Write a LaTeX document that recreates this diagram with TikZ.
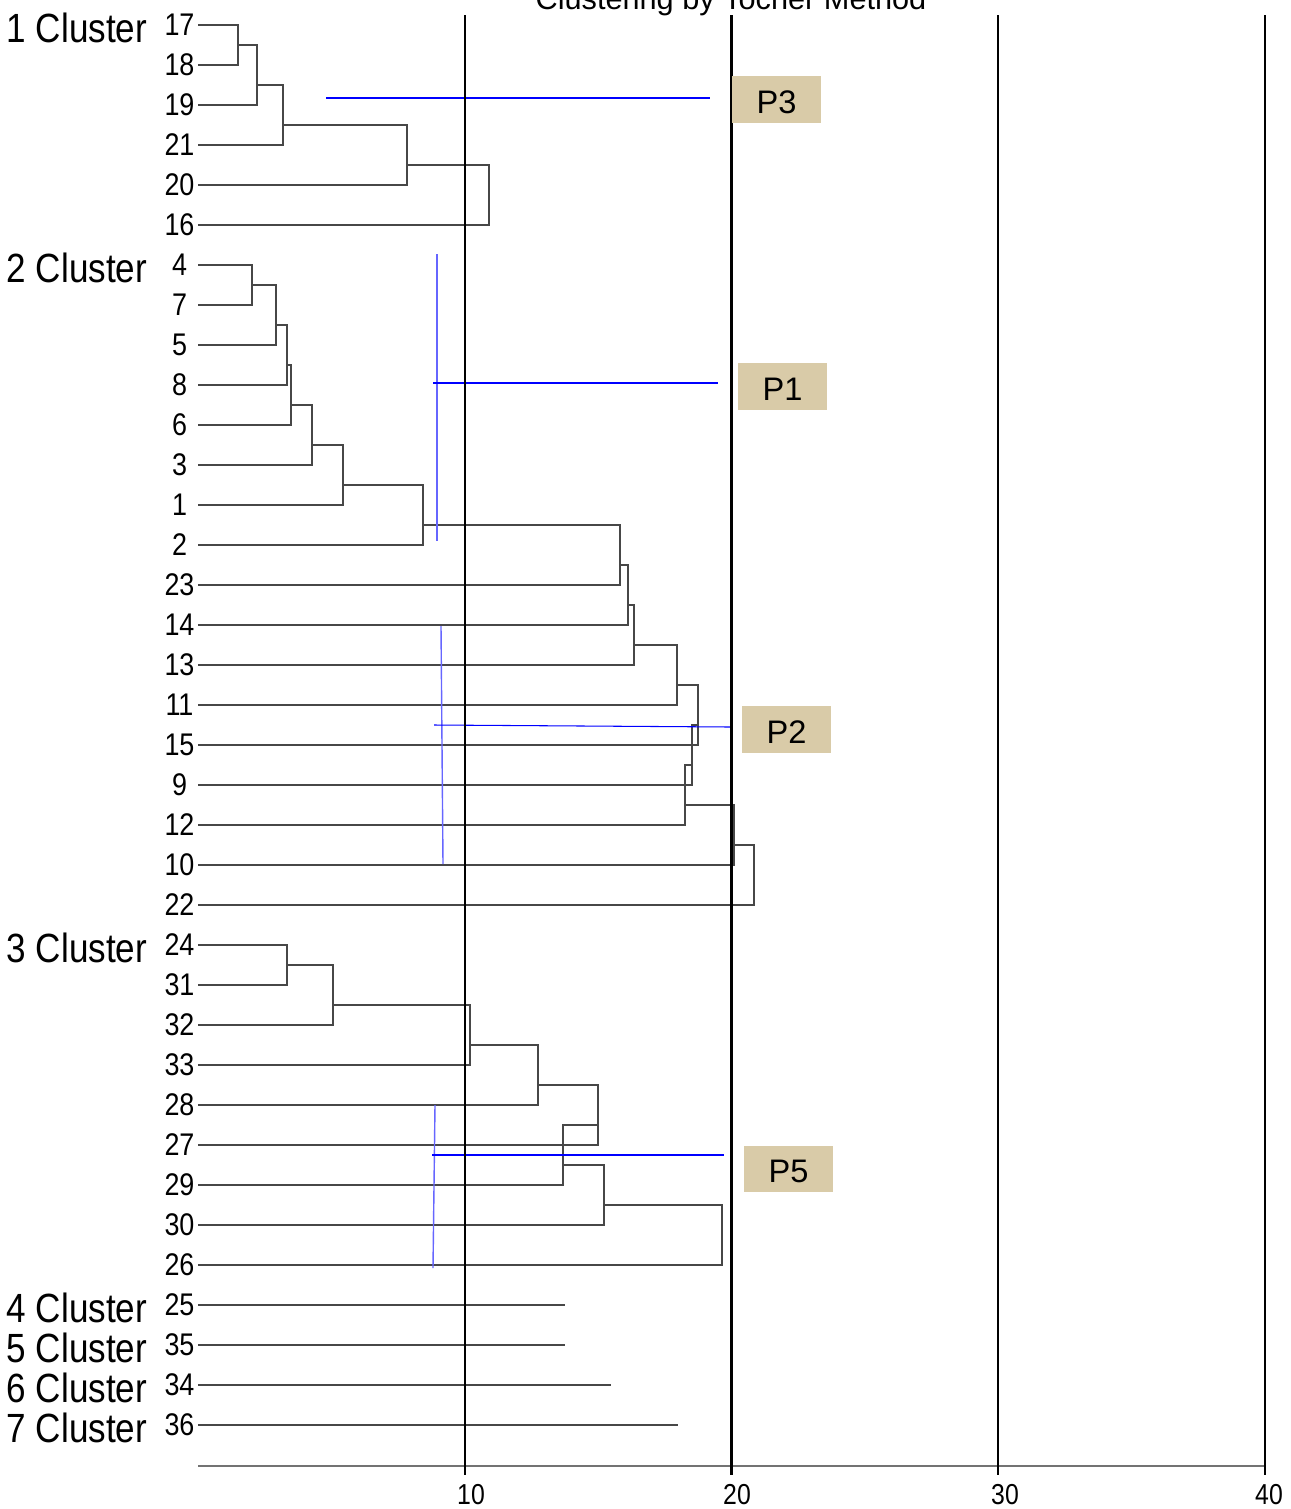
\documentclass[tikz,border=0pt]{standalone}
\usepackage{fontspec}
\setmainfont{Liberation Sans}
\newfontfamily\narrowfont[FakeStretch=0.86]{Liberation Sans}
\definecolor{ptan}{RGB}{217,203,168}
\tikzset{
  leaf/.style={anchor=east,inner sep=0pt,outer sep=0pt,minimum width=0.37cm,font=\narrowfont\fontsize{8.9}{10}\selectfont},
  clus/.style={anchor=base west,inner sep=0pt,font=\narrowfont\fontsize{11.6}{13}\selectfont},
  tickl/.style={inner sep=0pt,font=\narrowfont\fontsize{8.2}{10}\selectfont},
  headline/.style={anchor=base,inner sep=0pt,font=\fontsize{8.73}{10}\selectfont},
  link/.style={draw=black!72,line width=0.35pt},
  vline/.style={draw=black,line width=0.6pt},
  axisline/.style={draw=black!55,line width=0.35pt},
  cut/.style={draw=blue,line width=0.3pt},
  cutv/.style={draw=blue!60,line width=0.4pt},
  pbox/.style={fill=ptan,minimum width=0.88cm,minimum height=0.46cm,inner sep=0pt,text height=0.27cm,text depth=0pt,font=\fontsize{9.27}{11}\selectfont}
}
\begin{document}
\begin{tikzpicture}[x=0.01cm,y=-0.01cm]
\useasboundingbox (0,0) rectangle (1290,1509);
% title, cut at the top edge
\node[headline] (T) at (731,9.5) {Clustering by Tocher Method};
% cluster names
\node[clus] (C1) at (6,42) {1 Cluster};
\node[clus] (C2) at (6,282) {2 Cluster};
\node[clus] (C3) at (6,962) {3 Cluster};
\node[clus] (C4) at (6,1322) {4 Cluster};
\node[clus] (C5) at (6,1362) {5 Cluster};
\node[clus] (C6) at (6,1402) {6 Cluster};
\node[clus] (C7) at (6,1442) {7 Cluster};
% leaves
\node[leaf] (n17) at (198,25) {17};
\node[leaf] (n18) at (198,65) {18};
\node[leaf] (n19) at (198,105) {19};
\node[leaf] (n21) at (198,145) {21};
\node[leaf] (n20) at (198,185) {20};
\node[leaf] (n16) at (198,225) {16};
\node[leaf] (n4) at (198,265) {4};
\node[leaf] (n7) at (198,305) {7};
\node[leaf] (n5) at (198,345) {5};
\node[leaf] (n8) at (198,385) {8};
\node[leaf] (n6) at (198,425) {6};
\node[leaf] (n3) at (198,465) {3};
\node[leaf] (n1) at (198,505) {1};
\node[leaf] (n2) at (198,545) {2};
\node[leaf] (n23) at (198,585) {23};
\node[leaf] (n14) at (198,625) {14};
\node[leaf] (n13) at (198,665) {13};
\node[leaf] (n11) at (198,705) {11};
\node[leaf] (n15) at (198,745) {15};
\node[leaf] (n9) at (198,785) {9};
\node[leaf] (n12) at (198,825) {12};
\node[leaf] (n10) at (198,865) {10};
\node[leaf] (n22) at (198,905) {22};
\node[leaf] (n24) at (198,945) {24};
\node[leaf] (n31) at (198,985) {31};
\node[leaf] (n32) at (198,1025) {32};
\node[leaf] (n33) at (198,1065) {33};
\node[leaf] (n28) at (198,1105) {28};
\node[leaf] (n27) at (198,1145) {27};
\node[leaf] (n29) at (198,1185) {29};
\node[leaf] (n30) at (198,1225) {30};
\node[leaf] (n26) at (198,1265) {26};
\node[leaf] (n25) at (198,1305) {25};
\node[leaf] (n35) at (198,1345) {35};
\node[leaf] (n34) at (198,1385) {34};
\node[leaf] (n36) at (198,1425) {36};
% merge points
\coordinate (a1) at (238,45);
\coordinate (a2) at (257,85);
\coordinate (a3) at (283,125);
\coordinate (a4) at (407,165);
\coordinate (a5) at (489,205);
\coordinate (b1) at (252,285);
\coordinate (b2) at (276,325);
\coordinate (b3) at (287,365);
\coordinate (b4) at (291,405);
\coordinate (b5) at (312,445);
\coordinate (b6) at (343,485);
\coordinate (b7) at (423,525);
\coordinate (b8) at (620,565);
\coordinate (b9) at (628,605);
\coordinate (b10) at (634,645);
\coordinate (b11) at (677,685);
\coordinate (b12) at (698,725);
\coordinate (b13) at (692,765);
\coordinate (b14) at (685,805);
\coordinate (b15) at (734,845);
\coordinate (b16) at (754,885);
\coordinate (c1) at (287,965);
\coordinate (c2) at (333,1005);
\coordinate (c3) at (470,1045);
\coordinate (c4) at (538,1085);
\coordinate (c5) at (598,1125);
\coordinate (c6) at (563,1165);
\coordinate (c7) at (604,1205);
\coordinate (c8) at (722,1245);
\coordinate (e25) at (565,1305);
\coordinate (e35) at (565,1345);
\coordinate (e34) at (611,1385);
\coordinate (e36) at (678,1425);
% cluster 1
\draw[link] (n17.east) -| (a1) |- (n18.east);
\draw[link] (a1) -| (a2) |- (n19.east);
\draw[link] (a2) -| (a3) |- (n21.east);
\draw[link] (a3) -| (a4) |- (n20.east);
\draw[link] (a4) -| (a5) |- (n16.east);
% cluster 2
\draw[link] (n4.east) -| (b1) |- (n7.east);
\draw[link] (b1) -| (b2) |- (n5.east);
\draw[link] (b2) -| (b3) |- (n8.east);
\draw[link] (b3) -| (b4) |- (n6.east);
\draw[link] (b4) -| (b5) |- (n3.east);
\draw[link] (b5) -| (b6) |- (n1.east);
\draw[link] (b6) -| (b7) |- (n2.east);
\draw[link] (b7) -| (b8) |- (n23.east);
\draw[link] (b8) -| (b9) |- (n14.east);
\draw[link] (b9) -| (b10) |- (n13.east);
\draw[link] (b10) -| (b11) |- (n11.east);
\draw[link] (b11) -| (b12) |- (n15.east);
\draw[link] (b12) -| (b13) |- (n9.east);
\draw[link] (b13) -| (b14) |- (n12.east);
\draw[link] (b14) -| (b15) |- (n10.east);
\draw[link] (b15) -| (b16) |- (n22.east);
% cluster 3
\draw[link] (n24.east) -| (c1) |- (n31.east);
\draw[link] (c1) -| (c2) |- (n32.east);
\draw[link] (c2) -| (c3) |- (n33.east);
\draw[link] (c3) -| (c4) |- (n28.east);
\draw[link] (c4) -| (c5) |- (n27.east);
\draw[link] (c5) -| (c6) |- (n29.east);
\draw[link] (c6) -| (c7) |- (n30.east);
\draw[link] (c7) -| (c8) |- (n26.east);
% single ones
\draw[link] (n25.east) -- (e25);
\draw[link] (n35.east) -- (e35);
\draw[link] (n34.east) -- (e34);
\draw[link] (n36.east) -- (e36);
% cut marks
\coordinate (p3a) at (326,98);
\coordinate (p3b) at (710,98);
\coordinate (p1t) at (437,254);
\coordinate (p1d) at (437,541);
\coordinate (p1a) at (433,383);
\coordinate (p1b) at (718,383);
\coordinate (p2t) at (441,626);
\coordinate (p2d) at (443,864);
\coordinate (p2a) at (434,725);
\coordinate (p2b) at (730,727);
\coordinate (p5t) at (435,1105);
\coordinate (p5d) at (433,1268);
\coordinate (p5a) at (432,1155);
\coordinate (p5b) at (724,1155);
\draw[cut] (p3a) -- (p3b);
\draw[cutv] (p1t) -- (p1d);
\draw[cut] (p1a) -- (p1b);
\draw[cutv] (p2t) -- (p2d);
\draw[cut] (p2a) -- (p2b);
\draw[cutv] (p5t) -- (p5d);
\draw[cut] (p5a) -- (p5b);
% scale
\draw[axisline] (198,1466) -- (1265,1466);
\draw[vline] (465,15) -- (465,1475);
\draw[vline] (731.5,15) -- (731.5,1475);
\draw[vline] (998,15) -- (998,1475);
\draw[vline] (1265,15) -- (1265,1475);
\node[tickl] (x10) at (471,1495) {10};
\node[tickl] (x20) at (737,1495) {20};
\node[tickl] (x30) at (1005,1495) {30};
\node[tickl] (x40) at (1269,1495) {40};
% labels
\node[pbox] (P3) at (776.5,99.5) {P3};
\node[pbox] (P1) at (782.5,386.5) {P1};
\node[pbox] (P2) at (786.5,729.5) {P2};
\node[pbox] (P5) at (788.5,1168.5) {P5};
\end{tikzpicture}
\end{document}
